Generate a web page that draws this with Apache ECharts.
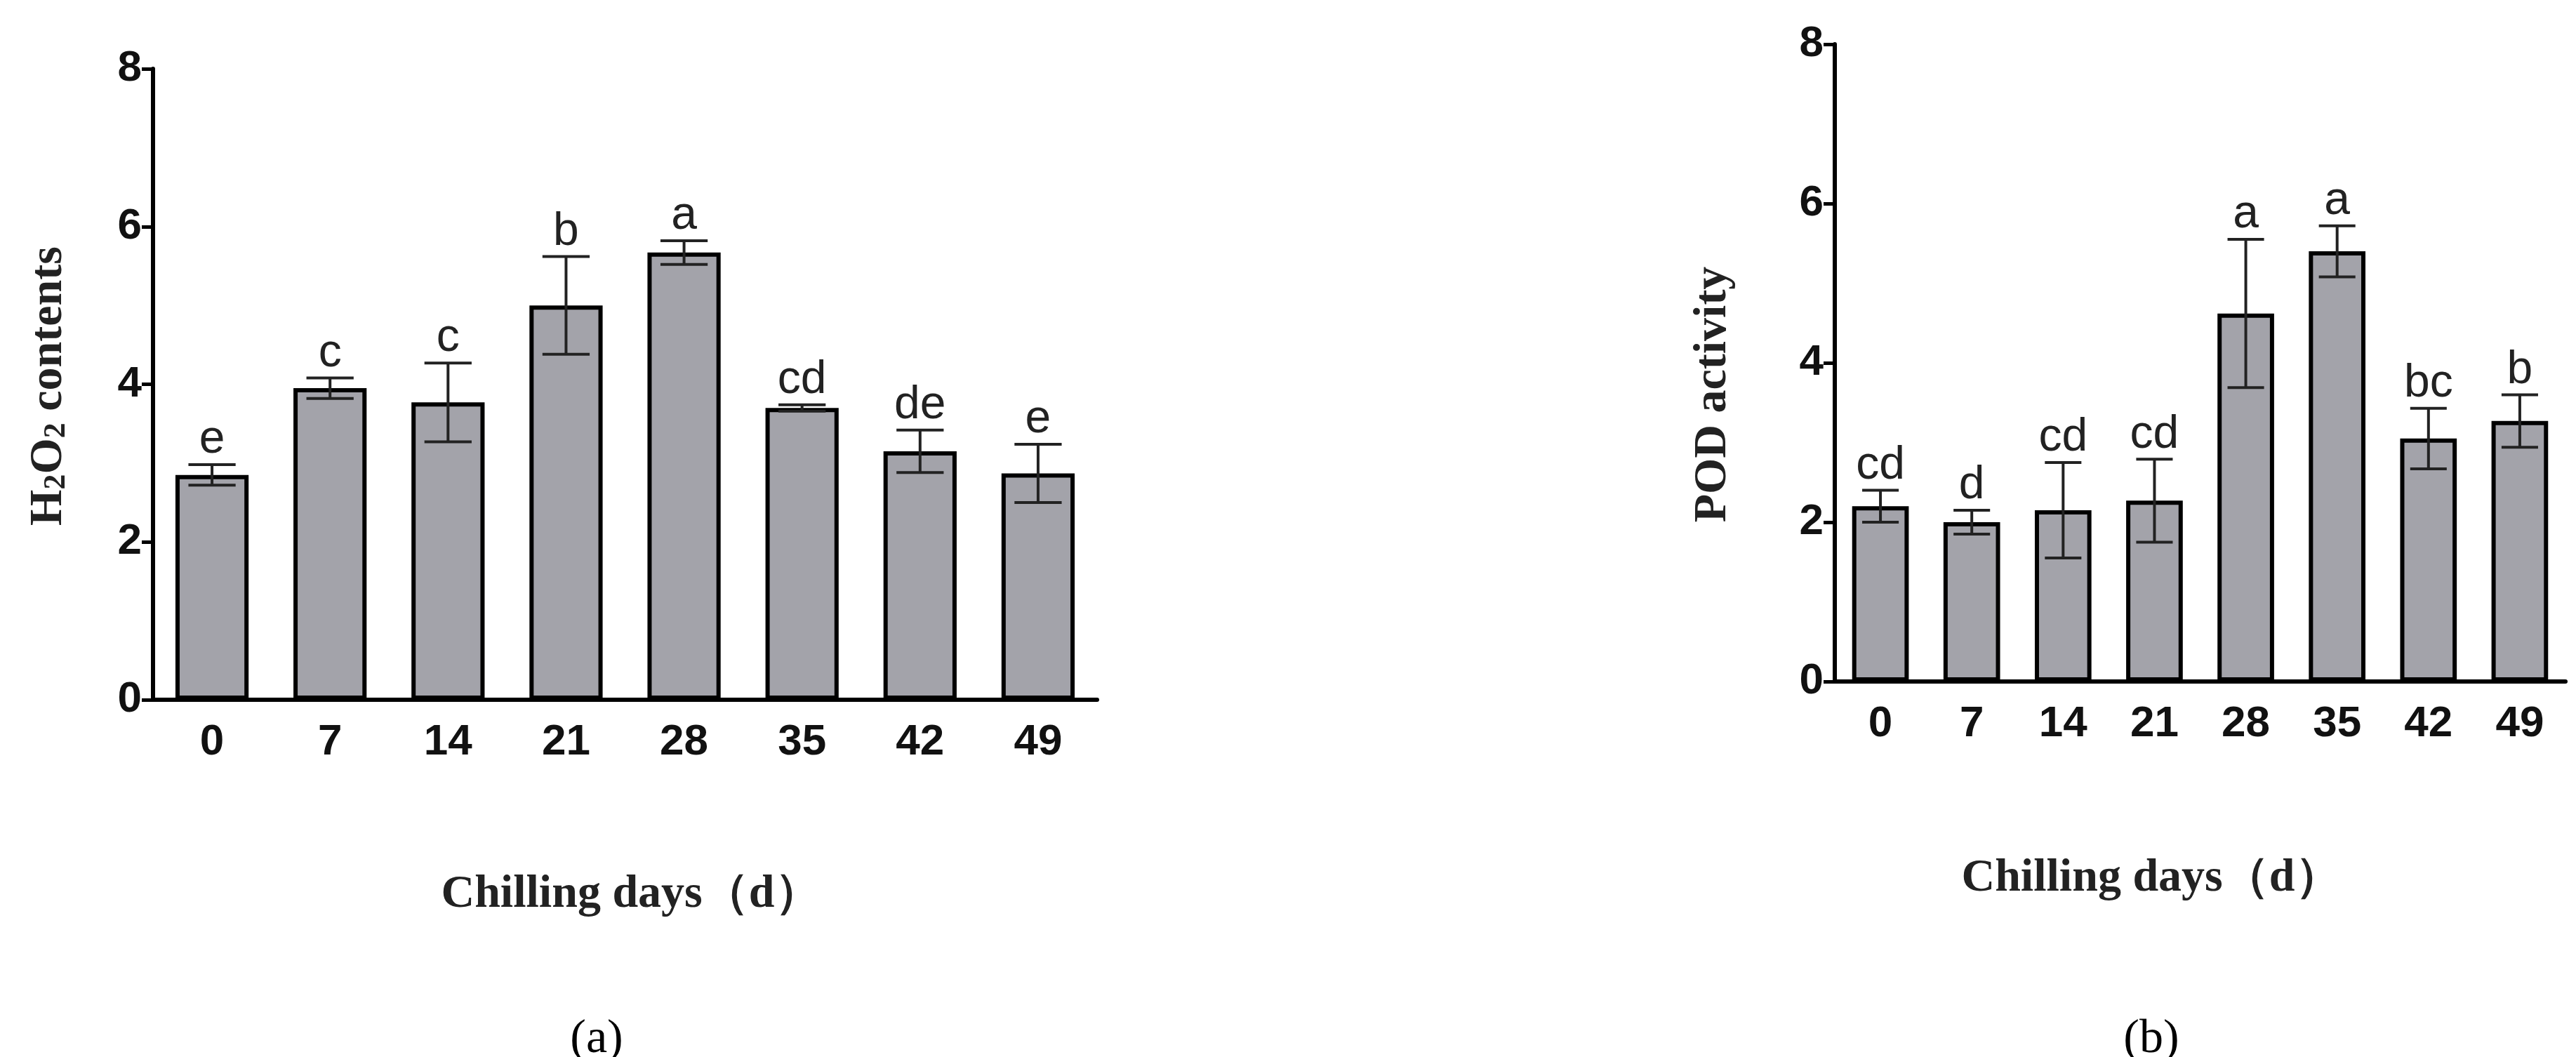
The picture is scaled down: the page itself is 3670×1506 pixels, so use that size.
<!DOCTYPE html><html><head><meta charset="utf-8"><script src="https://cdn.jsdelivr.net/npm/echarts@6/dist/echarts.min.js"></script></head><body style="margin:0;background:#fff"><div id="c" style="width:3670px;height:1506px"></div><script>
const days=['0','7','14','21','28','35','42','49'];
const h2o2=[2.85,3.95,3.77,5.0,5.67,3.7,3.15,2.87];
const h2o2Err=[0.13,0.13,0.5,0.62,0.15,0.04,0.27,0.37];
const h2o2Let=['e','c','c','b','a','cd','de','e'];
const pod=[2.2,2.0,2.15,2.27,4.62,5.4,3.05,3.27];
const podErr=[0.2,0.15,0.6,0.52,0.93,0.32,0.38,0.33];
const podLet=['cd','d','cd','cd','a','a','bc','b'];
const yTicks=[0,2,4,6,8];
const grids=[{left:218,right:3670-1563,top:98,height:899},{left:2614,right:15,top:63,height:908}];
function xa(i){return {type:'category',gridIndex:i,data:days,axisLine:{lineStyle:{color:'#000',width:6}},axisTick:{alignWithLabel:true,length:14,lineStyle:{width:5,color:'#000'}},axisLabel:{color:'#111',fontFamily:'Liberation Sans',fontWeight:'bold',fontSize:62,margin:30}};}
function ya(i){return {type:'value',gridIndex:i,min:0,max:8,interval:2,splitLine:{show:false},axisLine:{show:true,lineStyle:{color:'#000',width:6}},axisTick:{show:true,length:16,lineStyle:{width:5,color:'#000'}},axisLabel:{color:'#111',fontFamily:'Liberation Sans',fontWeight:'bold',fontSize:62,margin:16,formatter:v=>yTicks.includes(v)?String(v):''}};}
function bar(i,vals){return {type:'bar',xAxisIndex:i,yAxisIndex:i,data:vals,barWidth:'62%',itemStyle:{color:'#a3a3aa',borderColor:'#000',borderWidth:6},z:2};}
function err(i,vals,errs,lets){return {type:'custom',xAxisIndex:i,yAxisIndex:i,z:5,data:vals.map((v,k)=>[k,v,errs[k]]),renderItem:function(p,api){const x=api.value(0),v=api.value(1),e=api.value(2);const hi=api.coord([x,v+e]),lo=api.coord([x,v-e]);const w=api.size([1,0])[0]*0.2;const st={stroke:'#222',lineWidth:4};return {type:'group',children:[{type:'line',shape:{x1:hi[0],y1:hi[1],x2:lo[0],y2:lo[1]},style:st},{type:'line',shape:{x1:hi[0]-w,y1:hi[1],x2:hi[0]+w,y2:hi[1]},style:st},{type:'line',shape:{x1:lo[0]-w,y1:lo[1],x2:lo[0]+w,y2:lo[1]},style:st},{type:'text',x:hi[0],y:hi[1]-2,style:{text:lets[p.dataIndex],fill:'#222',fontFamily:'Liberation Sans',fontSize:66,textAlign:'center',textVerticalAlign:'bottom'}}]};}};}
const serif={fontFamily:'Liberation Serif',fontWeight:'bold',fill:'#222'};
const chart=echarts.init(document.getElementById('c'));
chart.setOption({animation:false,grid:grids,xAxis:[xa(0),xa(1)],yAxis:[ya(0),ya(1)],
series:[bar(0,h2o2),err(0,h2o2,h2o2Err,h2o2Let),bar(1,pod),err(1,pod,podErr,podLet)],
graphic:[
{type:'text',x:899,y:1275,style:Object.assign({text:'Chilling days（d）',fontSize:66,textAlign:'center',textVerticalAlign:'middle'},serif)},
{type:'text',x:3065,y:1252,style:Object.assign({text:'Chilling days（d）',fontSize:66,textAlign:'center',textVerticalAlign:'middle'},serif)},
{type:'text',x:70,y:550,rotation:Math.PI/2,style:{rich:{n:{fontFamily:'Liberation Serif',fontWeight:'bold',fontSize:66,fill:'#222'},s:{fontFamily:'Liberation Serif',fontWeight:'bold',fontSize:44,fill:'#222',verticalAlign:'bottom',padding:[22,0,0,0]}},text:'{n|H}{s|2}{n|O}{s|2}{n| contents}',textAlign:'center',textVerticalAlign:'middle'}},
{type:'text',x:2441,y:562,rotation:Math.PI/2,style:Object.assign({text:'POD activity',fontSize:66,textAlign:'center',textVerticalAlign:'middle'},serif)},
{type:'text',x:850,y:1481,style:{text:'(a)',fontFamily:'Liberation Serif',fontSize:68,fill:'#000',textAlign:'center',textVerticalAlign:'middle'}},
{type:'text',x:3065,y:1481,style:{text:'(b)',fontFamily:'Liberation Serif',fontSize:68,fill:'#000',textAlign:'center',textVerticalAlign:'middle'}}
]});
</script></body></html>
